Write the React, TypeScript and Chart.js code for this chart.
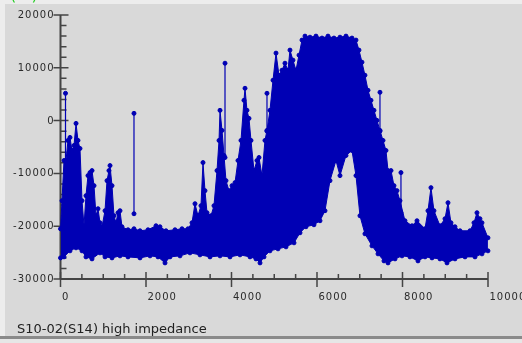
import React, { useEffect, useRef } from 'react';
import { Chart, registerables } from 'chart.js';

Chart.register(...registerables);

// ---- data ----
const upperX = [0, 35, 82, 129, 175, 222, 269, 316, 363, 409, 456, 503, 550, 596, 643, 690, 737, 784, 830, 877, 924, 971, 1041, 1088, 1134, 1158, 1205, 1251, 1298, 1345, 1392, 1438, 1579, 1719, 1860, 2047, 2234, 2327, 2468, 2678, 2842, 2982, 3076, 3146, 3216, 3286, 3333, 3380, 3427, 3520, 3590, 3661, 3708, 3731, 3778, 3825, 3871, 3941, 4012, 4082, 4152, 4222, 4292, 4316, 4362, 4409, 4456, 4526, 4596, 4643, 4713, 4783, 4830, 4900, 4971, 5041, 5111, 5181, 5251, 5321, 5368, 5438, 5508, 5579, 5649, 5719, 5836, 5976, 6117, 6257, 6397, 6538, 6678, 6818, 6912, 6982, 7052, 7122, 7193, 7263, 7333, 7403, 7473, 7544, 7614, 7661, 7731, 7801, 7871, 7941, 8058, 8222, 8339, 8526, 8596, 8666, 8736, 8877, 8994, 9064, 9134, 9228, 9345, 9579, 9672, 9742, 9812, 9859, 9999];
const upperY = [-20490, -15170, -7560, -7560, -3760, -3190, -5660, -4710, -530, -3760, -5280, -15170, -19920, -14220, -10420, -9850, -9470, -12320, -18020, -16690, -19350, -20110, -17070, -11370, -9470, -8520, -12320, -18020, -19350, -17450, -17070, -20110, -20680, -20490, -20870, -20680, -19920, -20110, -20870, -20680, -20490, -20490, -19350, -15740, -18020, -16120, -7950, -13270, -17450, -18020, -16120, -9470, -3760, 1940, -1860, -6610, -11370, -13270, -12320, -11750, -7560, -3760, 3840, 6120, 1940, 420, -3760, -9470, -7560, -6990, -10420, -3760, -1860, 1940, 7640, 12780, 8590, 9540, 10870, 9540, 13350, 11450, 9540, 12400, 15250, 16000, 15800, 16000, 15630, 16000, 15630, 15800, 16000, 15630, 15250, 13350, 11060, 8590, 5740, 3840, 1940, 40, -1860, -3760, -5660, -9470, -9470, -12320, -13270, -15170, -18970, -19920, -18970, -20490, -17070, -12700, -17070, -19920, -18590, -15550, -19350, -20110, -20870, -20870, -19350, -17450, -18590, -19350, -22200];

const lowerX = [0, 82, 222, 363, 503, 596, 737, 924, 1041, 1205, 1392, 1579, 1860, 2094, 2281, 2445, 2562, 2795, 3029, 3263, 3497, 3731, 3965, 4199, 4433, 4573, 4667, 4760, 4900, 5088, 5275, 5462, 5602, 5742, 5929, 6070, 6187, 6304, 6444, 6538, 6678, 6818, 6912, 7005, 7122, 7286, 7427, 7567, 7661, 7825, 7988, 8175, 8362, 8526, 8690, 8877, 9041, 9228, 9462, 9696, 9859, 9999];
const lowerY = [-26000, -25810, -24670, -24100, -24670, -25810, -26190, -25050, -25810, -26000, -25620, -25810, -26000, -25620, -25810, -26950, -25810, -25620, -25050, -25430, -25810, -25620, -25810, -25430, -25810, -26190, -26950, -25810, -24670, -24290, -23910, -23150, -21250, -20110, -19730, -18970, -17070, -11370, -7560, -10420, -6610, -5660, -10420, -18020, -21440, -23720, -25240, -26570, -26950, -26190, -25620, -25810, -26570, -25810, -26000, -26190, -26950, -26190, -25810, -25810, -25240, -24670];

const spikeX = [117, 1719, 3848, 4830, 7473, 7964];
const spikeLow = [-20000, -17640, -7000, -2000, -2000, -17450];
const spikeHigh = [5170, 1370, 10870, 5170, 5360, -9850];

const xMajorTicks = [0, 2000, 4000, 6000, 8000, 10000];
const xMinorTicks = [500, 1000, 1500, 2500, 3000, 3500, 4500, 5000, 5500, 6500, 7000, 7500, 8500, 9000, 9500];
const yMajorTicks = [20000, 10000, 0, -10000, -20000, -30000];
const yMinorTicks = [18000, 16000, 14000, 12000, 8000, 6000, 4000, 2000, -2000, -4000, -6000, -8000, -12000, -14000, -16000, -18000, -22000, -24000, -26000, -28000];

const chartTitle = 'S10-02(S14) high impedance';
const cornerLabel = '(   )';

const BLUE = '#0000b4';
const AXIS = '#444444';

const framePlugin = {
  id: 'frame',
  beforeDraw(chart: any) {
    const ctx = chart.ctx;
    const W = chart.width, H = chart.height;
    ctx.save();
    ctx.fillStyle = '#d9d9d9';
    ctx.fillRect(0, 0, W, H);
    ctx.fillStyle = '#ededed';
    ctx.fillRect(0, 0, 5, H);
    ctx.fillRect(0, 0, W, 4);
    ctx.fillStyle = '#8a8a8a';
    ctx.fillRect(0, 336, W, 3);
    ctx.fillStyle = '#e6e6e6';
    ctx.fillRect(0, 339, W, H - 339);
    // partially visible green label at the very top
    ctx.fillStyle = '#22cc22';
    ctx.font = '16px "DejaVu Sans"';
    ctx.textBaseline = 'alphabetic';
    ctx.fillText(cornerLabel, 10, 0);
    ctx.restore();
  },
  beforeDatasetsDraw(chart: any) {
    const ctx = chart.ctx;
    const xs = chart.scales.x, ys = chart.scales.y;
    const x0 = xs.getPixelForValue(xMajorTicks[0]);
    const x1 = xs.getPixelForValue(xMajorTicks[xMajorTicks.length - 1]);
    const yb = ys.getPixelForValue(yMajorTicks[yMajorTicks.length - 1]);
    const yt = ys.getPixelForValue(yMajorTicks[0]);
    ctx.save();
    ctx.strokeStyle = AXIS;
    ctx.lineWidth = 2;
    ctx.beginPath();
    ctx.moveTo(x0, yt); ctx.lineTo(x0, yb);
    ctx.moveTo(x0, yb); ctx.lineTo(x1, yb);
    ctx.stroke();
    ctx.lineWidth = 1.5;
    ctx.beginPath();
    yMajorTicks.forEach(v => { const p = ys.getPixelForValue(v); ctx.moveTo(x0 - 7, p); ctx.lineTo(x0 + 8, p); });
    yMinorTicks.forEach(v => { const p = ys.getPixelForValue(v); ctx.moveTo(x0, p); ctx.lineTo(x0 + 6, p); });
    xMajorTicks.forEach(v => { const p = xs.getPixelForValue(v); ctx.moveTo(p, yb - 7); ctx.lineTo(p, yb + 8); });
    xMinorTicks.forEach(v => { const p = xs.getPixelForValue(v); ctx.moveTo(p, yb - 5); ctx.lineTo(p, yb); });
    ctx.stroke();
    ctx.fillStyle = '#2a2a2a';
    ctx.font = '10px "DejaVu Sans"';
    (ctx as any).letterSpacing = '1px';
    ctx.textBaseline = 'middle';
    ctx.textAlign = 'right';
    yMajorTicks.forEach(v => { ctx.fillText(String(v), x0 - 6, ys.getPixelForValue(v) + 0.5); });
    ctx.textAlign = 'left';
    ctx.textBaseline = 'top';
    xMajorTicks.forEach(v => { ctx.fillText(String(v), xs.getPixelForValue(v) + 1.5, yb + 13); });
    (ctx as any).letterSpacing = '0px';
    ctx.font = '13px "DejaVu Sans"';
    ctx.textBaseline = 'alphabetic';
    ctx.fillStyle = '#222222';
    ctx.fillText(chartTitle, 17, 333);
    ctx.restore();
  },
};

const seriesStyle = {
  borderColor: BLUE,
  backgroundColor: BLUE,
  pointBackgroundColor: BLUE,
  pointBorderColor: BLUE,
  pointRadius: 2,
  pointBorderWidth: 1,
  borderWidth: 1,
  tension: 0,
  clip: false,
};

export default function App() {
  const ref = useRef<HTMLCanvasElement | null>(null);
  useEffect(() => {
    document.body.style.margin = '0';
    const canvas = ref.current;
    if (!canvas) return;
    const spikeData: any[] = [];
    spikeX.forEach((x, i) => {
      spikeData.push({ x, y: spikeLow[i] });
      spikeData.push({ x, y: spikeHigh[i] });
      spikeData.push({ x, y: null });
    });
    const chart = new Chart(canvas, {
      type: 'line',
      data: {
        datasets: [
          { label: 'upper', data: upperX.map((x, i) => ({ x, y: upperY[i] })), ...seriesStyle, fill: '+1' } as any,
          { label: 'lower', data: lowerX.map((x, i) => ({ x, y: lowerY[i] })), ...seriesStyle, fill: false } as any,
          { label: 'spikes', data: spikeData, ...seriesStyle, borderWidth: 1.2, fill: false, spanGaps: false } as any,
        ],
      },
      options: {
        responsive: false,
        animation: false,
        devicePixelRatio: 1,
        events: [],
        layout: { padding: { left: 60.5, right: 34, top: 15, bottom: 64 } },
        plugins: { legend: { display: false }, tooltip: { enabled: false }, title: { display: false } },
        scales: {
          x: { type: 'linear', min: 0, max: 10000, display: false },
          y: { type: 'linear', min: -30000, max: 20000, display: false },
        },
      },
      plugins: [framePlugin],
    });
    return () => chart.destroy();
  }, []);
  return (
    <div style={{ position: 'absolute', left: 0, top: 0, width: 522, height: 343 }}>
      <canvas ref={ref} width={522} height={343} style={{ display: 'block', width: 522, height: 343 }} />
    </div>
  );
}
